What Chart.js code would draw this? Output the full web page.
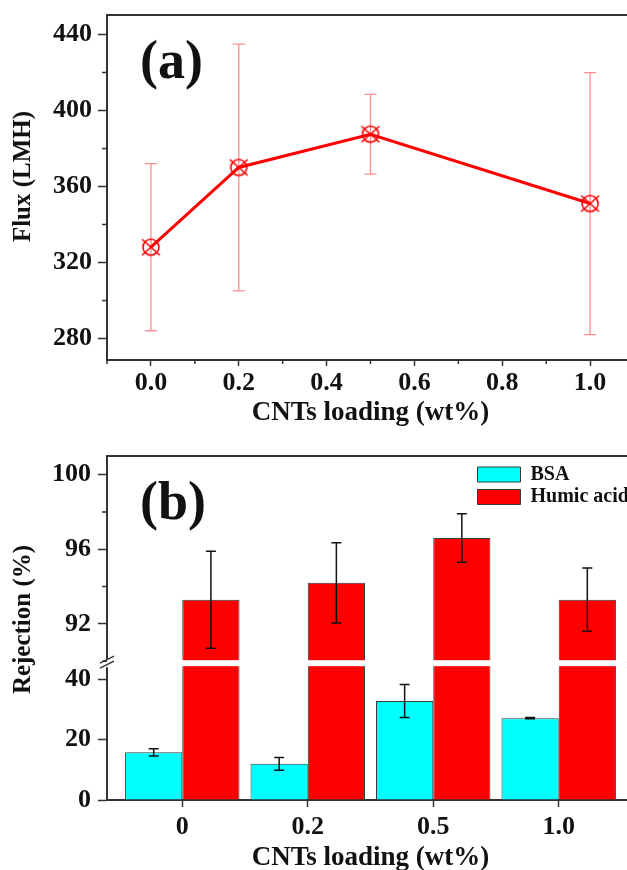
<!DOCTYPE html>
<html>
<head>
<meta charset="utf-8">
<title>CNTs loading: flux and rejection</title>
<script src="https://cdn.jsdelivr.net/npm/chart.js@4"></script>
<style>
  html, body { margin: 0; padding: 0; background: #fff; width: 627px; height: 870px; overflow: hidden; }
  #wrapA { position: absolute; left: 0; top: 0; }
  #wrapB { position: absolute; left: 0; top: 440px; }
</style>
</head>
<body>
<div id="wrapA"><canvas id="fluxChart" width="660" height="440"></canvas></div>
<div id="wrapB"><canvas id="rejChart" width="660" height="434"></canvas></div>
<script>
const FONT = "'Liberation Serif', 'Times New Roman', serif";
const INK = '#111';
const AXIS = '#333';

// (a) flux vs CNTs loading
const fluxLoading = [0.0, 0.2, 0.5, 1.0];
const fluxValues = [328, 370, 387.5, 351];
const fluxErrors = [44, 65, 21, 69];
const fluxXTicks = [0, 0.2, 0.4, 0.6, 0.8, 1.0];
const fluxYTicks = [280, 320, 360, 400, 440];

// (b) rejection, broken y axis
const rejCategories = ['0', '0.2', '0.5', '1.0'];
const bsaValues = [15.8, 12.0, 32.8, 27.1];
const bsaErrors = [1.2, 2.1, 5.5, 0.2];
const humicValues = [93.3, 94.2, 96.6, 93.3];
const humicErrors = [2.6, 2.15, 1.3, 1.7];
const rejHighTicks = [92, 96, 100];
const rejLowTicks = [0, 20, 40];
const LOW_MAX = 46;   // top of the lower axis segment
const HIGH_MIN = 90;  // bottom of the upper axis segment

const tickFont = { family: FONT, size: 26, weight: 'bold' };
const titleFont = { family: FONT, size: 27, weight: 'bold' };

// fixed axis boxes, no extra padding for overhanging labels
function fixWidth(w) {
    return s => { s.width = w; s.paddingTop = 0; s.paddingBottom = 0; };
}
function fixHeight(h) {
    return s => { s.height = h; s.paddingLeft = 0; s.paddingRight = 0; };
}

// circle with a cross, like the Origin marker
function makeMarker() {
    const c = document.createElement('canvas');
    c.width = 22; c.height = 22;
    const g = c.getContext('2d');
    g.strokeStyle = '#ff0000';
    g.lineWidth = 1.6;
    g.beginPath(); g.arc(11, 11, 8, 0, Math.PI * 2); g.stroke();
    g.beginPath();
    g.moveTo(2, 3); g.lineTo(20, 19);
    g.moveTo(20, 3); g.lineTo(2, 19);
    g.stroke();
    return c;
}

function drawErrorBars(chart, dsIndex, values, errors, color, width, cap) {
    const meta = chart.getDatasetMeta(dsIndex);
    const yScale = chart.scales[meta.yAxisID];
    const ctx = chart.ctx;
    ctx.save();
    ctx.strokeStyle = color;
    ctx.lineWidth = width;
    meta.data.forEach((el, i) => {
        const x = el.x;
        const top = yScale.getPixelForValue(values[i] + errors[i]);
        const bot = yScale.getPixelForValue(values[i] - errors[i]);
        ctx.beginPath();
        ctx.moveTo(x, top); ctx.lineTo(x, bot);
        ctx.moveTo(x - cap, top); ctx.lineTo(x + cap, top);
        ctx.moveTo(x - cap, bot); ctx.lineTo(x + cap, bot);
        ctx.stroke();
    });
    ctx.restore();
}

// short ticks half way between the labelled ones
function drawMinorTicks(chart, scaleId, len) {
    const s = chart.scales[scaleId];
    const vals = s.ticks.map(t => t.value);
    const step = vals[1] - vals[0];
    const ctx = chart.ctx;
    ctx.save();
    ctx.strokeStyle = AXIS;
    ctx.lineWidth = 1.5;
    ctx.beginPath();
    for (let v = vals[0] - step / 2; v <= s.max + 1e-9; v += step) {
        if (v < s.min - 1e-9) continue;
        const p = s.getPixelForValue(v);
        if (s.isHorizontal()) {
            ctx.moveTo(p, s.top); ctx.lineTo(p, s.top + len);
        } else {
            ctx.moveTo(s.right - len, p); ctx.lineTo(s.right, p);
        }
    }
    ctx.stroke();
    ctx.restore();
}

function drawFrame(chart) {
    const ca = chart.chartArea;
    const ctx = chart.ctx;
    ctx.save();
    ctx.strokeStyle = AXIS;
    ctx.lineWidth = 2;
    ctx.beginPath();
    ctx.moveTo(ca.left, ca.top); ctx.lineTo(ca.right, ca.top); ctx.lineTo(ca.right, ca.bottom);
    ctx.stroke();
    ctx.restore();
}

function drawPanelLabel(chart, text) {
    const ca = chart.chartArea;
    const ctx = chart.ctx;
    ctx.save();
    ctx.font = 'bold 54px ' + FONT;
    ctx.fillStyle = INK;
    ctx.textBaseline = 'middle';
    ctx.fillText(text, ca.left + 33, ca.top + 49);
    ctx.restore();
}

function drawYTitle(chart, text, x, dy) {
    const ca = chart.chartArea;
    const ctx = chart.ctx;
    ctx.save();
    ctx.translate(x, (ca.top + ca.bottom) / 2 + dy);
    ctx.rotate(-Math.PI / 2);
    ctx.font = 'bold 25px ' + FONT;
    ctx.fillStyle = INK;
    ctx.textAlign = 'center';
    ctx.textBaseline = 'middle';
    ctx.fillText(text, 0, 0);
    ctx.restore();
}

// ---------- (a) ----------
new Chart(document.getElementById('fluxChart'), {
    type: 'line',
    data: {
        datasets: [{
            label: 'Flux',
            data: fluxLoading.map((x, i) => ({ x: x, y: fluxValues[i] })),
            borderColor: '#ff0000',
            borderWidth: 3,
            tension: 0,
            pointStyle: makeMarker(),
            pointRadius: 9
        }]
    },
    options: {
        responsive: false,
        animation: false,
        events: [],
        layout: { padding: { top: 15, right: 26, left: 0, bottom: 0 } },
        plugins: { legend: { display: false }, tooltip: { enabled: false } },
        scales: {
            x: {
                type: 'linear', min: -0.1, max: 1.1, z: 1,
                afterBuildTicks: s => { s.ticks = fluxXTicks.map(v => ({ value: v })); },
                afterFit: fixHeight(80),
                ticks: { font: tickFont, color: INK, padding: 2, callback: v => v.toFixed(1) },
                grid: { drawOnChartArea: false, tickLength: 6, tickColor: AXIS, tickWidth: 1.5 },
                border: { color: AXIS, width: 2 },
                title: { display: true, text: 'CNTs loading (wt%)', font: titleFont, color: INK, padding: { top: 0, bottom: 11 } }
            },
            y: {
                min: 268.6, max: 450.3,
                afterBuildTicks: s => { s.ticks = fluxYTicks.map(v => ({ value: v })); },
                afterFit: fixWidth(107),
                ticks: { font: tickFont, color: INK, padding: 6 },
                grid: { drawOnChartArea: false, tickLength: 9, tickColor: AXIS, tickWidth: 1.5 },
                border: { color: AXIS, width: 2 }
            }
        }
    },
    plugins: [{
        id: 'fluxDecor',
        beforeDatasetsDraw(chart) {
            drawErrorBars(chart, 0, fluxValues, fluxErrors, '#ff8f8f', 1.3, 6);
        },
        afterDraw(chart) {
            drawFrame(chart);
            drawMinorTicks(chart, 'x', 4);
            drawMinorTicks(chart, 'y', 5);
            drawPanelLabel(chart, '(a)');
            drawYTitle(chart, 'Flux (LMH)', 24, -11);
        }
    }]
});

// ---------- (b) ----------
const barStyle = { borderColor: '#2d3b3b', borderWidth: 1, barPercentage: 1, categoryPercentage: 0.912 };

new Chart(document.getElementById('rejChart'), {
    type: 'bar',
    data: {
        datasets: [
            Object.assign({
                label: 'BSA',
                data: bsaValues.map((v, i) => ({ x: i, y: v })),
                yAxisID: 'yLow', stack: 'bsa',
                backgroundColor: '#00ffff'
            }, barStyle),
            Object.assign({
                label: 'Humic acid',
                data: humicValues.map((v, i) => ({ x: i, y: [0, Math.min(v, LOW_MAX)] })),
                yAxisID: 'yLow', stack: 'humic',
                backgroundColor: '#ff0000'
            }, barStyle),
            Object.assign({
                label: 'Humic acid',
                data: humicValues.map((v, i) => ({ x: i, y: [HIGH_MIN, v] })),
                yAxisID: 'yHigh', stack: 'humic',
                backgroundColor: '#ff0000'
            }, barStyle)
        ]
    },
    options: {
        responsive: false,
        animation: false,
        events: [],
        layout: { padding: { top: 16, right: 26, left: 0, bottom: 0 } },
        plugins: {
            tooltip: { enabled: false },
            legend: {
                position: 'chartArea', fullSize: false, align: 'start',
                labels: {
                    boxWidth: 43, boxHeight: 15, padding: 2.5, color: INK,
                    font: { family: FONT, size: 20, weight: 'bold' },
                    filter: item => item.datasetIndex < 2
                }
            }
        },
        scales: {
            x: {
                type: 'linear', min: -0.6, max: 3.6, offset: false, z: 1,
                afterBuildTicks: s => { s.ticks = rejCategories.map((c, i) => ({ value: i })); },
                afterFit: fixHeight(74),
                ticks: { font: tickFont, color: INK, padding: 5, callback: v => rejCategories[v] },
                grid: { offset: false, drawOnChartArea: false, tickLength: 7, tickColor: AXIS, tickWidth: 1.5 },
                border: { color: AXIS, width: 2 },
                title: { display: true, text: 'CNTs loading (wt%)', font: titleFont, color: INK, padding: { top: 0, bottom: 0 } }
            },
            yHigh: {
                type: 'linear', position: 'left', stack: 'rej', stackWeight: 204, weight: 1,
                stacked: false, min: HIGH_MIN, max: 101,
                afterBuildTicks: s => { s.ticks = rejHighTicks.map(v => ({ value: v })); },
                afterFit: fixWidth(107),
                ticks: { font: tickFont, color: INK, padding: 7 },
                grid: { drawOnChartArea: false, tickLength: 9, tickColor: AXIS, tickWidth: 1.5 },
                border: { color: AXIS, width: 2 }
            },
            yLow: {
                type: 'linear', position: 'left', stack: 'rej', stackWeight: 138, weight: 0,
                stacked: false, min: 0, max: LOW_MAX,
                afterBuildTicks: s => { s.ticks = rejLowTicks.map(v => ({ value: v })); },
                afterFit: fixWidth(107),
                ticks: { font: tickFont, color: INK, padding: 7 },
                grid: { drawOnChartArea: false, tickLength: 9, tickColor: AXIS, tickWidth: 1.5 },
                border: { color: AXIS, width: 2 }
            }
        }
    },
    plugins: [{
        id: 'rejDecor',
        afterLayout(chart) {
            // legend sits inside the plot, top right
            const lg = chart.legend;
            lg.left = 475;
            lg.top = 22;
            lg.right = lg.left + 200;
            lg.bottom = lg.top + 100;
        },
        afterDatasetsDraw(chart) {
            const ca = chart.chartArea;
            const b = chart.scales.yLow.top;
            const ctx = chart.ctx;
            ctx.save();
            ctx.fillStyle = '#fff';
            ctx.fillRect(ca.left + 1, b - 1, ca.right - ca.left - 2, 6);
            ctx.strokeStyle = AXIS;
            ctx.lineWidth = 1.5;
            [ca.left, ca.right].forEach(x0 => {
                ctx.fillRect(x0 - 3, b - 2, 6, 8);
                ctx.beginPath();
                ctx.moveTo(x0 - 7, b + 2); ctx.lineTo(x0 + 7, b - 5);
                ctx.moveTo(x0 - 7, b + 7); ctx.lineTo(x0 + 7, b);
                ctx.stroke();
            });
            ctx.restore();
            drawErrorBars(chart, 0, bsaValues, bsaErrors, '#111', 1.5, 5);
            drawErrorBars(chart, 2, humicValues, humicErrors, '#111', 1.5, 5);
        },
        afterDraw(chart) {
            drawFrame(chart);
            drawMinorTicks(chart, 'yHigh', 5);
            drawPanelLabel(chart, '(b)');
            drawYTitle(chart, 'Rejection (%)', 24, -8.5);
        }
    }]
});
</script>
</body>
</html>
